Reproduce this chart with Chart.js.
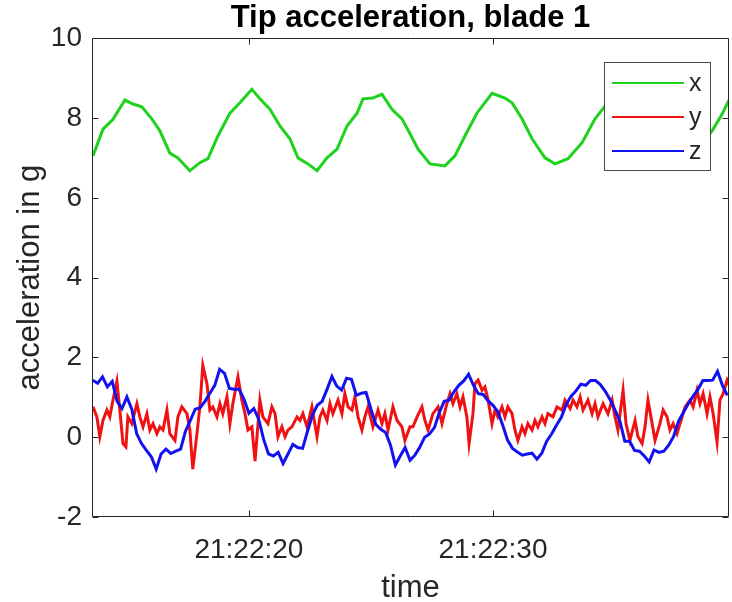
<!DOCTYPE html>
<html><head><meta charset="utf-8">
<script src="https://cdn.jsdelivr.net/npm/chart.js@4/dist/chart.umd.min.js"></script>
<style>html,body{margin:0;padding:0;background:#fff;}#wrap{width:732px;height:602px;}</style>
</head><body><div id="wrap"><canvas id="c" width="732" height="602"></canvas></div>
<script>
// ---- data (time in seconds after 21:22:00) ----
const chartTitle = 'Tip acceleration, blade 1';
const xAxisTitle = 'time';
const yAxisTitle = 'acceleration in g';
const seriesNames = ['x', 'y', 'z'];
const xTicks = [20, 30];
const xTickLabels = ['21:22:20', '21:22:30'];
const yTicks = [-2, 0, 2, 4, 6, 8, 10];

// x component (green)
const tX = [13.61,14.02,14.43,14.92,15.25,15.61,16.02,16.35,16.76,17.09,17.58,17.99,18.32,18.73,19.22,19.63,20.12,20.45,20.86,21.27,21.68,22.01,22.42,22.79,23.20,23.61,24.02,24.43,24.67,25.08,25.45,25.86,26.27,26.52,26.93,27.42,28.03,28.44,28.85,29.34,29.96,30.49,30.78,31.19,31.60,32.13,32.54,33.07,33.65,34.18,34.59,35.20,35.82,36.64,37.34,38.07,38.98,39.39,39.67];
const accX = [7.05,7.72,7.97,8.45,8.35,8.28,7.98,7.68,7.12,7.0,6.68,6.88,6.98,7.55,8.12,8.38,8.72,8.48,8.22,7.8,7.48,7.0,6.85,6.68,7.0,7.22,7.8,8.12,8.48,8.5,8.6,8.22,7.98,7.7,7.22,6.85,6.8,7.05,7.55,8.12,8.62,8.5,8.38,7.98,7.48,7.0,6.85,6.98,7.38,7.98,8.3,8.55,8.3,7.5,6.9,7.0,7.68,8.1,8.45];

// y component (red)
const tY = [13.61,13.77,13.89,14.02,14.18,14.30,14.43,14.59,14.71,14.84,14.96,15.04,15.20,15.41,15.53,15.66,15.82,15.94,16.07,16.23,16.35,16.48,16.64,16.76,16.97,17.09,17.25,17.46,17.58,17.70,17.87,17.99,18.11,18.28,18.40,18.52,18.69,18.81,18.93,19.10,19.22,19.34,19.55,19.71,19.84,19.96,20.12,20.25,20.45,20.57,20.78,20.94,21.07,21.19,21.35,21.48,21.60,21.76,21.97,22.09,22.21,22.38,22.58,22.79,22.91,23.03,23.20,23.32,23.44,23.65,23.81,23.93,24.06,24.22,24.34,24.47,24.63,24.75,24.88,25.08,25.29,25.45,25.57,25.70,25.90,26.07,26.27,26.39,26.60,26.72,26.89,27.09,27.21,27.34,27.54,27.75,27.91,28.11,28.24,28.36,28.52,28.65,28.77,28.93,29.02,29.18,29.26,29.39,29.55,29.67,29.80,29.96,30.08,30.20,30.37,30.49,30.61,30.78,30.90,31.02,31.19,31.31,31.43,31.60,31.72,31.84,32.01,32.13,32.25,32.46,32.62,32.83,32.95,33.16,33.28,33.44,33.57,33.69,33.89,34.06,34.18,34.30,34.51,34.71,34.88,35.00,35.12,35.33,35.45,35.61,35.82,35.94,36.11,36.23,36.35,36.52,36.64,36.84,36.97,37.13,37.25,37.38,37.54,37.75,37.87,38.07,38.20,38.36,38.48,38.61,38.77,38.89,39.02,39.18,39.30,39.43,39.59,39.71];
const accY = [0.76,0.51,0.01,0.42,0.68,0.51,0.93,1.4,0.68,-0.16,-0.24,0.51,0.34,0.84,0.51,0.26,0.59,0.18,0.34,0.09,0.26,0.18,0.68,0.09,-0.08,0.51,0.76,0.59,0.18,-0.8,0.09,0.76,1.8,1.34,0.68,0.76,0.51,0.84,0.59,1.01,0.34,0.84,1.51,0.93,0.59,0.18,0.26,-0.6,0.93,0.51,0.34,0.76,0.59,0.01,0.26,0.01,0.18,0.26,0.51,0.42,0.59,0.26,0.76,0.01,0.51,0.68,0.42,0.84,0.59,0.93,0.59,1.09,0.76,0.68,1.01,0.51,0.18,0.51,0.76,0.26,0.68,0.34,0.59,0.18,0.76,0.42,0.26,-0.08,0.26,0.26,0.51,0.76,0.42,0.18,0.59,0.76,0.34,0.84,1.09,0.84,1.09,0.76,1.01,0.51,-0.16,0.59,1.34,1.43,1.18,1.26,0.93,0.34,0.68,0.51,0.76,0.51,0.76,0.59,0.18,-0.08,0.26,0.09,0.34,0.18,0.42,0.26,0.51,0.34,0.59,0.51,0.76,0.68,0.93,0.72,0.93,0.76,1.01,0.68,0.93,0.59,0.84,0.51,0.84,0.59,0.93,0.51,0.18,1.18,0.34,-0.08,0.42,0.01,-0.16,0.26,0.93,0.34,-0.08,0.34,0.68,0.51,0.18,0.34,0.09,0.51,0.76,0.93,0.76,1.18,0.84,1.09,0.59,1.01,0.59,-0.12,0.93,1.09,1.43,1.26];

// z component (blue)
const tZ = [13.6,13.8,14.0,14.2,14.4,14.6,14.8,15.0,15.2,15.4,15.6,15.8,16.0,16.2,16.4,16.6,16.8,17.0,17.2,17.4,17.6,17.8,18.0,18.2,18.4,18.6,18.8,19.0,19.2,19.4,19.6,19.8,20.0,20.2,20.4,20.6,20.8,21.0,21.2,21.4,21.6,21.8,22.0,22.2,22.4,22.6,22.8,23.0,23.2,23.4,23.6,23.8,24.0,24.2,24.4,24.6,24.8,25.0,25.2,25.4,25.6,25.8,26.0,26.2,26.4,26.6,26.8,27.0,27.2,27.4,27.6,27.8,28.0,28.2,28.4,28.6,28.8,29.0,29.2,29.4,29.6,29.8,30.0,30.2,30.4,30.6,30.8,31.0,31.2,31.4,31.6,31.8,32.0,32.2,32.4,32.6,32.8,33.0,33.2,33.4,33.6,33.8,34.0,34.2,34.4,34.6,34.8,35.0,35.2,35.4,35.6,35.8,36.0,36.2,36.4,36.6,36.8,37.0,37.2,37.4,37.6,37.8,38.0,38.2,38.4,38.6,38.8,39.0,39.2,39.4,39.6];
const accZ = [1.43,1.35,1.51,1.26,1.4,0.9,0.72,1.01,0.7,0.09,-0.16,-0.33,-0.49,-0.8,-0.42,-0.3,-0.41,-0.35,-0.3,0.15,0.42,0.7,0.74,0.9,1.1,1.3,1.7,1.6,1.22,1.2,1.2,0.95,0.6,0.72,0.45,-0.05,-0.42,-0.47,-0.38,-0.66,-0.42,-0.18,-0.26,-0.28,0.15,0.55,0.8,0.9,1.2,1.52,1.28,1.18,1.48,1.45,1.05,1.1,1.12,0.7,0.32,0.2,0.12,-0.2,-0.7,-0.47,-0.26,-0.58,-0.45,-0.25,0.0,0.08,0.24,0.62,0.9,0.93,1.14,1.3,1.41,1.58,1.3,1.09,1.07,0.91,0.8,0.64,0.3,-0.08,-0.28,-0.37,-0.45,-0.42,-0.4,-0.55,-0.4,-0.1,0.08,0.3,0.5,0.82,1.03,1.16,1.33,1.3,1.42,1.42,1.32,1.15,0.94,0.68,0.4,-0.1,-0.1,-0.33,-0.35,-0.47,-0.62,-0.32,-0.38,-0.35,-0.2,0.02,0.4,0.62,0.84,1.03,1.2,1.42,1.42,1.43,1.65,1.3,1.05];

// ---- styling ----
const FONT = "'Liberation Sans', Arial, Helvetica, sans-serif";
const INK = '#262626';
const COLORS = ['#1ed21e', '#f01212', '#1212f0'];

function pts(t, v) { return t.map((tt, i) => ({ x: tt, y: v[i] })); }

const frame = {
  id: 'frame',
  afterDatasetsDraw(chart) {
    const { ctx, chartArea: a, scales } = chart;
    ctx.save();
    ctx.strokeStyle = INK;
    ctx.lineWidth = 1;
    ctx.beginPath();
    const L = Math.round(a.left) + 0.5, R = Math.round(a.right) - 0.5, T = Math.round(a.top) + 0.5, B = Math.round(a.bottom) - 0.5;
    ctx.rect(L, T, R - L, B - T);
    const tl = 6;
    yTicks.forEach(v => {
      const y = Math.round(scales.y.getPixelForValue(v)) + 0.5;
      ctx.moveTo(L, y); ctx.lineTo(L + tl, y);
      ctx.moveTo(R, y); ctx.lineTo(R - tl, y);
    });
    xTicks.forEach(v => {
      const x = Math.round(scales.x.getPixelForValue(v)) + 0.5;
      ctx.moveTo(x, B); ctx.lineTo(x, B - tl);
      ctx.moveTo(x, T); ctx.lineTo(x, T + tl);
    });
    ctx.stroke();

    // legend box inside the axes (north-east)
    const bx = 604.5, by = 62.5, bw = 106, bh = 108;
    ctx.fillStyle = '#fff';
    ctx.fillRect(bx, by, bw, bh);
    ctx.strokeStyle = '#4a4a4a';
    ctx.lineWidth = 1;
    ctx.strokeRect(bx, by, bw, bh);
    const rows = [83, 117, 151];
    chart.data.datasets.forEach((ds, i) => {
      const y = rows[i];
      ctx.strokeStyle = ds.borderColor;
      ctx.lineWidth = 2;
      ctx.beginPath();
      ctx.moveTo(612, y); ctx.lineTo(684, y);
      ctx.stroke();
      ctx.fillStyle = INK;
      ctx.font = '25px ' + FONT;
      ctx.textAlign = 'left';
      ctx.textBaseline = 'middle';
      ctx.fillText(ds.label, 689, y + 1);
    });
    ctx.restore();
  }
};

new Chart(document.getElementById('c'), {
  type: 'line',
  data: {
    datasets: [
      { label: seriesNames[0], data: pts(tX, accX), borderColor: COLORS[0], borderWidth: 3, pointRadius: 0, tension: 0, order: 3 },
      { label: seriesNames[1], data: pts(tY, accY), borderColor: COLORS[1], borderWidth: 3, pointRadius: 0, tension: 0, order: 2 },
      { label: seriesNames[2], data: pts(tZ, accZ), borderColor: COLORS[2], borderWidth: 3, pointRadius: 0, tension: 0, order: 1 }
    ]
  },
  options: {
    responsive: false,
    animation: false,
    devicePixelRatio: 1,
    events: [],
    layout: { padding: { top: 0, right: 3, left: 0, bottom: 0 } },
    plugins: {
      legend: { display: false },
      tooltip: { enabled: false },
      title: {
        display: true, text: chartTitle, color: '#000', fullSize: false,
        font: { family: FONT, size: 31, weight: 'bold', lineHeight: 1.2 },
        padding: { top: 0, bottom: 1 }
      }
    },
    scales: {
      x: {
        type: 'linear', min: 13.57, max: 39.67,
        afterBuildTicks: s => { s.ticks = xTicks.map(v => ({ value: v })); },
        afterFit: s => { s.height = 85; },
        ticks: {
          autoSkip: false, maxRotation: 0, padding: 16, color: INK,
          font: { family: FONT, size: 28 },
          callback: (v, i) => xTickLabels[i]
        },
        grid: { display: false, drawTicks: false }, border: { display: false },
        title: { display: true, text: xAxisTitle, color: INK, font: { family: FONT, size: 31, lineHeight: 0.9 }, padding: { top: 0, bottom: 0 } }
      },
      y: {
        type: 'linear', min: -2, max: 10,
        afterBuildTicks: s => { s.ticks = yTicks.map(v => ({ value: v })); },
        afterFit: s => { s.width = 92; },
        ticks: { padding: 10, color: INK, font: { family: FONT, size: 28 } },
        grid: { display: false, drawTicks: false }, border: { display: false },
        title: { display: true, text: yAxisTitle, color: INK, font: { family: FONT, size: 31, lineHeight: 1.2 }, padding: { top: 12, bottom: 0 } }
      }
    }
  },
  plugins: [frame]
});
</script>
</body></html>
